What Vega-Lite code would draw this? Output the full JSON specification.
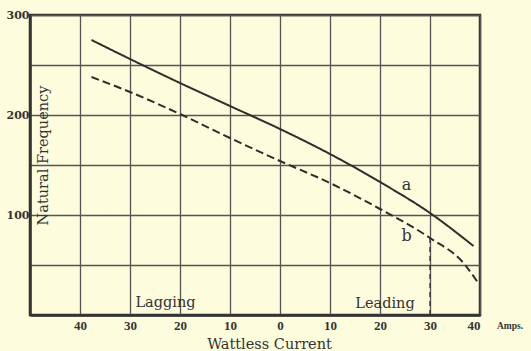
{
  "$schema": "https://vega.github.io/schema/vega-lite/v6.json",
  "width": 450,
  "height": 300,
  "autosize": {"type": "none"},
  "padding": {"left": 30, "top": 15, "right": 51, "bottom": 36},
  "background": "#fdfcdd",
  "config": {
    "view": {"stroke": "#333333", "strokeWidth": 2.5, "fill": "#fdfcdd"},
    "font": "DejaVu Serif"
  },
  "datasets": {
    "curves": [
      {"current": -37.7, "freq": 275, "curve": "a"},
      {"current": -30, "freq": 256, "curve": "a"},
      {"current": -20, "freq": 232, "curve": "a"},
      {"current": -10, "freq": 209, "curve": "a"},
      {"current": 0, "freq": 186, "curve": "a"},
      {"current": 10, "freq": 161, "curve": "a"},
      {"current": 20, "freq": 133, "curve": "a"},
      {"current": 30, "freq": 102, "curve": "a"},
      {"current": 38.7, "freq": 69, "curve": "a"},
      {"current": -37.7, "freq": 238, "curve": "b"},
      {"current": -30, "freq": 223, "curve": "b"},
      {"current": -20, "freq": 201, "curve": "b"},
      {"current": -10, "freq": 177, "curve": "b"},
      {"current": 0, "freq": 154, "curve": "b"},
      {"current": 10, "freq": 132, "curve": "b"},
      {"current": 20, "freq": 106, "curve": "b"},
      {"current": 30, "freq": 77, "curve": "b"},
      {"current": 36.7, "freq": 52, "curve": "b"},
      {"current": 39.5, "freq": 33, "curve": "b"}
    ],
    "marker": [{"current": 30, "freq": 77, "base": 0}],
    "curveLabels": [
      {"current": 25.3, "freq": 130, "label": "a"},
      {"current": 25.3, "freq": 79, "label": "b"}
    ],
    "regionLabels": [
      {"current": -22.9, "freq": 12, "label": "Lagging"},
      {"current": 21, "freq": 11, "label": "Leading"}
    ],
    "unit": [{"current": 40, "freq": 0, "label": "Amps."}]
  },
  "layer": [
    {
      "data": {"name": "curves"},
      "mark": {"type": "line", "interpolate": "monotone", "color": "#2e2e2e", "strokeWidth": 2},
      "encoding": {
        "x": {
          "field": "current", "type": "quantitative",
          "scale": {"domain": [-50, 40], "nice": false, "zero": false},
          "axis": {
            "values": [-40, -30, -20, -10, 0, 10, 20, 30, 40],
            "labelExpr": "abs(datum.value)",
            "labelFont": "Liberation Serif", "labelFontWeight": "bold", "labelFontSize": 13,
            "labelColor": "#333333", "labelPadding": 4,
            "ticks": false,
            "domainColor": "#333333", "domainWidth": 2.5,
            "grid": true, "gridColor": "#555555", "gridWidth": 1.3, "gridOpacity": 1,
            "title": "Wattless Current",
            "titleFont": "DejaVu Serif", "titleFontWeight": "normal", "titleFontSize": 14.5,
            "titleColor": "#333333",
            "titleX": 239, "titleY": 29, "titleBaseline": "middle", "titleAlign": "center"
          }
        },
        "y": {
          "field": "freq", "type": "quantitative",
          "scale": {"domain": [0, 300], "nice": false},
          "axis": {
            "values": [0, 50, 100, 150, 200, 250, 300],
            "labelExpr": "datum.value % 100 === 0 && datum.value > 0 ? datum.label : ''",
            "labelFont": "DejaVu Serif", "labelFontWeight": "bold", "labelFontSize": 11,
            "labelColor": "#333333", "labelPadding": 1,
            "ticks": false,
            "domainColor": "#333333", "domainWidth": 2.5,
            "grid": true, "gridColor": "#555555", "gridWidth": 1.3, "gridOpacity": 1,
            "title": "Natural Frequency",
            "titleFont": "DejaVu Serif", "titleFontWeight": "normal", "titleFontSize": 14.5,
            "titleColor": "#333333",
            "titleX": 13, "titleY": 140, "titleAngle": -90, "titleBaseline": "middle", "titleAlign": "center"
          }
        },
        "strokeDash": {
          "field": "curve", "type": "nominal",
          "scale": {"domain": ["a", "b"], "range": [[1, 0], [8, 4]]},
          "legend": null
        }
      }
    },
    {
      "data": {"name": "marker"},
      "mark": {"type": "rule", "color": "#333333", "strokeWidth": 1.3, "strokeDash": [5, 4]},
      "encoding": {
        "x": {"field": "current", "type": "quantitative"},
        "y": {"field": "freq", "type": "quantitative"},
        "y2": {"field": "base"}
      }
    },
    {
      "data": {"name": "curveLabels"},
      "mark": {"type": "text", "font": "DejaVu Serif", "fontSize": 16, "color": "#333333", "baseline": "middle", "align": "center"},
      "encoding": {
        "x": {"field": "current", "type": "quantitative"},
        "y": {"field": "freq", "type": "quantitative"},
        "text": {"field": "label"}
      }
    },
    {
      "data": {"name": "regionLabels"},
      "mark": {"type": "text", "font": "DejaVu Serif", "fontSize": 14.5, "color": "#333333", "baseline": "middle", "align": "center"},
      "encoding": {
        "x": {"field": "current", "type": "quantitative"},
        "y": {"field": "freq", "type": "quantitative"},
        "text": {"field": "label"}
      }
    },
    {
      "data": {"name": "unit"},
      "mark": {"type": "text", "font": "Liberation Serif", "fontWeight": "bold", "fontSize": 9.5, "color": "#333333", "baseline": "middle", "align": "left", "dx": 17, "dy": 11},
      "encoding": {
        "x": {"field": "current", "type": "quantitative"},
        "y": {"field": "freq", "type": "quantitative"},
        "text": {"field": "label"}
      }
    }
  ]
}
